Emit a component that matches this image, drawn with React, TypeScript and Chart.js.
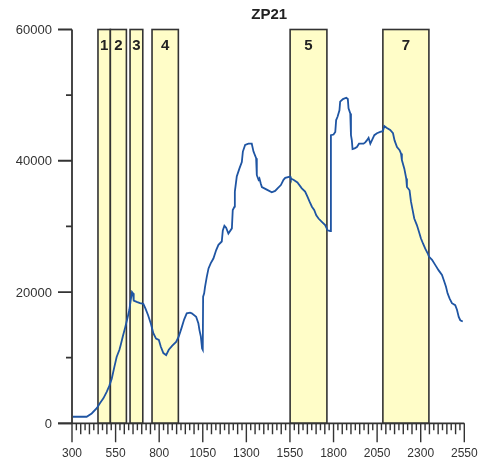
import React, { useEffect, useRef } from "react";
import { Chart, registerables } from "chart.js";

Chart.register(...registerables);

// Spectrum trace: wavenumber positions and intensities
const wavenumber = [
  305, 384, 413, 442, 461, 480, 499, 514, 528, 543, 556, 572, 579, 591, 604, 618, 629, 637, 644, 650,
  654, 671, 690, 709, 721, 736, 752, 767, 782, 798, 809, 824, 840, 855, 874, 897, 912, 928, 943, 958,
  977, 987, 1012, 1025, 1031, 1039, 1046, 1050, 1052, 1058, 1063, 1073, 1083, 1096, 1111, 1127, 1140, 1159, 1165, 1174,
  1184, 1197, 1217, 1222, 1232, 1234, 1245, 1260, 1274, 1280, 1293, 1312, 1331, 1341, 1356, 1360, 1370, 1375, 1383, 1389,
  1417, 1446, 1465, 1479, 1498, 1513, 1523, 1551, 1555, 1570, 1593, 1618, 1637, 1651, 1662, 1676, 1689, 1701, 1714, 1733,
  1752, 1766, 1781, 1785, 1800, 1810, 1815, 1823, 1834, 1838, 1854, 1873, 1882, 1886, 1896, 1900, 1905, 1909, 1921, 1934,
  1946, 1972, 1982, 1991, 2001, 2011, 2020, 2034, 2049, 2068, 2083, 2091, 2106, 2125, 2141, 2150, 2164, 2179, 2187, 2192,
  2206, 2217, 2221, 2236, 2244, 2252, 2263, 2278, 2290, 2301, 2313, 2326, 2340, 2347, 2365, 2384, 2403, 2422, 2435, 2445,
  2454, 2466, 2479, 2498, 2508, 2518, 2527, 2541,
];
const intensity = [
  1000, 1000, 1500, 2300, 3100, 3800, 4800, 5700, 6800, 8600, 10100, 11200, 11900, 13200, 14500, 16000, 17300, 18800, 20000, 19800,
  18700, 18500, 18300, 18200, 17500, 16500, 15200, 13700, 12900, 12700, 11700, 10700, 10400, 11200, 11800, 12400, 13200, 14500, 15800, 16750,
  16850, 16750, 16240, 15200, 14200, 13200, 11400, 11200, 19300, 19800, 20800, 22300, 23600, 24400, 25100, 26400, 27200, 27700, 29400, 30100,
  29800, 28900, 29700, 32500, 33000, 35300, 37600, 38800, 39800, 41400, 42400, 42600, 42600, 41400, 40400, 37800, 37100, 37300, 36500, 36000,
  35600, 35200, 35400, 35800, 36300, 37100, 37400, 37600, 37300, 37100, 36700, 35800, 35300, 34500, 33800, 33000, 32500, 31700, 31200, 30700,
  30200, 29400, 29300, 43900, 44000, 44400, 46200, 46700, 47700, 49000, 49400, 49600, 49400, 48000, 47200, 43900, 43100, 41800, 41900, 42100,
  42600, 42600, 42800, 43100, 43500, 42600, 43100, 43900, 44200, 44400, 44500, 45300, 45000, 44700, 44200, 43100, 42100, 41600, 41100, 40100,
  38800, 37300, 36000, 35500, 33800, 32700, 31200, 30200, 29200, 28200, 27400, 26600, 25900, 25400, 24900, 24100, 23300, 22600, 21600, 20800,
  19800, 19000, 18300, 18000, 17300, 16200, 15700, 15500,
];

// Highlighted bands
const zoneStart = [449, 520, 633, 759, 1551, 2083];
const zoneEnd = [520, 612, 706, 910, 1762, 2347];
const zoneLabel = ["1", "2", "3", "4", "5", "7"];

// Axis ranges and labelled ticks
const xMin = 300;
const xMax = 2550;
const xMajorStep = 250;
const xMinorStep = 25;
const yMin = 0;
const yMax = 60000;
const yMajorTicks = [0, 20000, 40000, 60000];
const yMinorTicks = [10000, 30000, 50000];

const chartTitle = "ZP21";

const FONT = '"Liberation Sans", Arial, sans-serif';
const INK = "#333333";

const decorPlugin = {
  id: "decor",
  beforeDatasetsDraw(chart: any) {
    const { ctx, scales } = chart;
    const xs = scales.x;
    const ys = scales.y;
    ctx.save();
    const top = ys.getPixelForValue(yMax);
    const bottom = ys.getPixelForValue(yMin);
    for (let i = 0; i < zoneStart.length; i++) {
      const l = xs.getPixelForValue(zoneStart[i]);
      const r = xs.getPixelForValue(zoneEnd[i]);
      ctx.fillStyle = "#fffdc8";
      ctx.fillRect(l, top, r - l, bottom - top);
      ctx.strokeStyle = INK;
      ctx.lineWidth = 1.6;
      ctx.strokeRect(l, top, r - l, bottom - top);
    }
    ctx.fillStyle = "#222222";
    ctx.font = `bold 15px ${FONT}`;
    ctx.textAlign = "center";
    ctx.textBaseline = "middle";
    for (let i = 0; i < zoneStart.length; i++) {
      const c = xs.getPixelForValue((zoneStart[i] + zoneEnd[i]) / 2);
      ctx.fillText(zoneLabel[i], c, top + 16);
    }
    ctx.restore();
  },
  afterDraw(chart: any) {
    const { ctx, scales, chartArea } = chart;
    const xs = scales.x;
    const ys = scales.y;
    const x0 = xs.getPixelForValue(xMin);
    const x1 = xs.getPixelForValue(xMax);
    const y0 = ys.getPixelForValue(yMin);
    const y1 = ys.getPixelForValue(yMax);
    ctx.save();
    ctx.strokeStyle = INK;
    ctx.lineWidth = 1.8;
    ctx.lineCap = "butt";

    // axis lines
    ctx.beginPath();
    ctx.moveTo(x0, y1);
    ctx.lineTo(x0, y0);
    ctx.moveTo(x0 - 14, y0);
    ctx.lineTo(x1, y0);
    ctx.stroke();

    // y ticks
    ctx.beginPath();
    yMajorTicks.forEach((v) => {
      const p = ys.getPixelForValue(v);
      ctx.moveTo(x0 - 14, p);
      ctx.lineTo(x0, p);
    });
    yMinorTicks.forEach((v) => {
      const p = ys.getPixelForValue(v);
      ctx.moveTo(x0 - 6, p);
      ctx.lineTo(x0, p);
    });
    ctx.stroke();

    // x ticks
    ctx.lineWidth = 1.4;
    ctx.beginPath();
    for (let v = xMin; v <= xMax + 0.001; v += xMinorStep) {
      const p = xs.getPixelForValue(v);
      const off = (v - xMin) % xMajorStep;
      let len = 7;
      if (off === 0) len = 19;
      else if (off % 50 === 0) len = 11;
      ctx.moveTo(p, y0);
      ctx.lineTo(p, y0 + len);
    }
    ctx.stroke();

    // tick labels
    ctx.fillStyle = INK;
    ctx.font = `13px ${FONT}`;
    ctx.textAlign = "right";
    ctx.textBaseline = "middle";
    yMajorTicks.forEach((v) => {
      ctx.fillText(String(v), x0 - 20, ys.getPixelForValue(v) + 1);
    });
    ctx.font = `12px ${FONT}`;
    ctx.textAlign = "center";
    for (let v = xMin; v <= xMax; v += xMajorStep) {
      ctx.fillText(String(v), xs.getPixelForValue(v), y0 + 30);
    }

    // title
    ctx.fillStyle = "#222222";
    ctx.font = `bold 15px ${FONT}`;
    ctx.fillText(chartTitle, (chartArea.left + chartArea.right) / 2 + 1, 15);
    ctx.restore();
  },
};

export default function App() {
  const canvasRef = useRef<HTMLCanvasElement | null>(null);

  useEffect(() => {
    const canvas = canvasRef.current;
    if (!canvas) return;
    const points = wavenumber.map((x, i) => ({ x, y: intensity[i] }));
    const chart = new Chart(canvas, {
      type: "line",
      data: {
        datasets: [
          {
            data: points,
            borderColor: "#1f55a3",
            borderWidth: 1.8,
            pointRadius: 0,
            tension: 0,
            fill: false,
          },
        ],
      },
      options: {
        responsive: false,
        animation: false,
        layout: { padding: { left: 72, right: 16.7, top: 29.5, bottom: 51.7 } },
        scales: {
          x: { type: "linear", min: xMin, max: xMax, display: false },
          y: { type: "linear", min: yMin, max: yMax, display: false },
        },
        plugins: {
          legend: { display: false },
          title: { display: false },
          tooltip: { enabled: false },
        },
      },
      plugins: [decorPlugin],
    });
    return () => chart.destroy();
  }, []);

  return (
    <div style={{ position: "absolute", left: 0, top: 0, width: 481, height: 475, background: "#fff" }}>
      <canvas ref={canvasRef} width={481} height={475} />
    </div>
  );
}
